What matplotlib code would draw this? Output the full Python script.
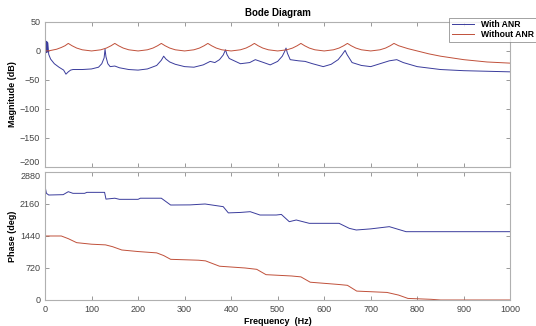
import numpy as np
import matplotlib.pyplot as plt

plt.rcParams['font.family'] = ['Liberation Sans', 'DejaVu Sans']

# magnitude (dB)
f_mag_with = [0, 2, 3, 4, 5, 6, 8, 12, 20, 30, 40, 45, 50, 55, 60, 80, 100, 115, 122, 127, 129,
              131, 135, 140, 150, 160, 180, 200, 220, 240, 250, 255, 260, 268, 280, 300, 320,
              340, 355, 365, 375, 383, 388, 391, 396, 404, 420, 440, 452, 470, 484, 500, 510,
              515, 518, 521, 527, 545, 559, 575, 598, 615, 630, 638, 645, 649, 660, 680, 700,
              720, 740, 756, 770, 800, 850, 900, 950, 1000]
mag_with = [0, 17, -3, 16, -2, 14, -6, -14, -22, -28, -33, -40, -36, -33, -32, -32, -31, -28, -22,
            -12, 3, -10, -22, -27, -26, -29, -32, -33, -31, -25, -16, -9, -14, -19, -23, -27, -28,
            -24, -18, -20, -15, -7, 2, -6, -13, -16, -22, -20, -15, -20, -24, -18, -9, -1, 5, -4,
            -15, -17, -18, -22, -27, -23, -15, -7, 1, -6, -20, -25, -27, -22, -17, -15, -20, -27,
            -32, -34, -35, -36]

f_mag_without = [0, 10, 25, 35, 43, 50, 58, 68, 80, 100, 120, 132, 142, 150, 158, 168, 180, 200,
                 220, 232, 242, 250, 258, 268, 280, 300, 320, 332, 342, 350, 358, 368, 380, 400,
                 420, 432, 442, 450, 458, 468, 480, 500, 520, 532, 542, 550, 558, 568, 580, 600,
                 620, 632, 642, 650, 658, 668, 680, 700, 720, 732, 742, 750, 760, 780, 800, 825,
                 850, 875, 900, 925, 950, 975, 1000]
mag_without = [0, 0.5, 3, 6, 9, 13, 9, 5, 2, 0, 2, 5, 9, 13, 9, 5, 2, 0, 2, 5, 9, 13, 9, 5, 2, 0,
               2, 5, 9, 13, 9, 5, 2, 0, 2, 5, 9, 13, 9, 5, 2, 0, 2, 5, 9, 13, 9, 5, 2, 0, 2, 5, 9,
               13, 9, 5, 2, 0, 2, 5, 9, 13, 9, 4, 0, -5, -9, -12, -15, -17, -19, -20, -21]

# phase (deg)
f_ph_with = [0, 3, 8, 39, 50, 60, 85, 90, 128, 131, 150, 160, 200, 205, 250, 270, 312, 344, 383,
             394, 420, 441, 462, 497, 508, 525, 540, 568, 632, 654, 669, 700, 740, 776, 1000]
ph_with = [2560, 2400, 2362, 2370, 2437, 2400, 2400, 2422, 2422, 2270, 2290, 2265, 2265, 2290,
           2290, 2137, 2140, 2160, 2100, 1960, 1970, 1987, 1912, 1912, 1925, 1762, 1800, 1725, 1725,
           1612, 1575, 1600, 1650, 1537, 1537]

f_ph_without = [0, 35, 50, 68, 100, 130, 145, 165, 200, 240, 255, 270, 330, 345, 375, 430, 455,
                475, 530, 550, 570, 630, 650, 670, 735, 760, 780, 830, 850, 1000]
ph_without = [1440, 1440, 1380, 1290, 1255, 1240, 1200, 1125, 1090, 1060, 1000, 915, 895, 880,
              760, 720, 690, 570, 540, 520, 400, 350, 330, 200, 170, 110, 35, 15, 0, 0]

blue = '#3a3c9c'
red = '#c0503a'
edge = '#b0b0b0'

fig = plt.figure(figsize=(5.36, 3.26), dpi=100)
ax1 = fig.add_axes([0.084, 0.4877, 0.868, 0.445])
ax2 = fig.add_axes([0.084, 0.0798, 0.868, 0.3926])

ax1.plot(f_mag_with, mag_with, color=blue, lw=0.7, label='With ANR')
ax1.plot(f_mag_without, mag_without, color=red, lw=0.7, label='Without ANR')
ax2.plot(f_ph_with, ph_with, color=blue, lw=0.7)
ax2.plot(f_ph_without, ph_without, color=red, lw=0.7)

ax1.set_xlim(0, 1000)
ax1.set_ylim(-200, 50)
ax1.set_yticks([-200, -150, -100, -50, 0, 50])
ax1.set_xticks(range(0, 1001, 100))
ax1.set_xticklabels([])
ax2.set_xlim(0, 1000)
ax2.set_ylim(0, 2880)
ax2.set_yticks([0, 720, 1440, 2160, 2880])
ax2.set_xticks(range(0, 1001, 100))

for ax in (ax1, ax2):
    for s in ax.spines.values():
        s.set_color(edge)
        s.set_linewidth(0.8)
    ax.tick_params(direction='in', length=3, width=0.6, color='#888888',
                   labelsize=6.5, labelcolor='#444444', top=True, right=True)

# keep the touching end labels of the two axes apart
ax1.get_yticklabels()[0].set_verticalalignment('bottom')
ax2.get_yticklabels()[-1].set_verticalalignment('top')

ax1.set_ylabel('Magnitude (dB)', fontsize=6.5, fontweight='bold', labelpad=2)
ax2.set_ylabel('Phase (deg)', fontsize=6.5, fontweight='bold', labelpad=2)
ax2.set_xlabel('Frequency  (Hz)', fontsize=6.5, fontweight='bold', labelpad=2)
ax1.set_title('Bode Diagram', fontsize=7, fontweight='bold', pad=4)

leg = fig.legend(loc='upper right', bbox_to_anchor=(1.0, 0.945),
                 prop={'weight': 'bold', 'size': 6.2}, handlelength=2.6, fancybox=False,
                 borderpad=0.25, labelspacing=0.15, handletextpad=0.8, borderaxespad=0)
leg.get_frame().set_edgecolor('#777777')
leg.get_frame().set_linewidth(0.6)

fig.savefig('out.png', dpi=100)
